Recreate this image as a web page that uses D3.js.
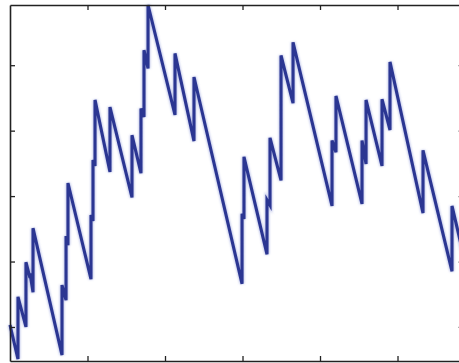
<!DOCTYPE html>
<html>
<head>
<meta charset="utf-8">
<script src="https://cdn.jsdelivr.net/npm/d3@7"></script>
<style>
  html, body { margin: 0; padding: 0; background: #fff; }
  svg { display: block; }
</style>
</head>
<body>
<svg id="chart"></svg>
<script>
// sawtooth series (repeated times are vertical jumps)
let time = [0, 10.3, 10.3, 20.6, 20.6, 25.8, 25.8, 29.7, 29.7,
    67.1, 67.1, 72.3, 72.3, 74.8, 74.8,
    104.5, 104.5, 107.1, 107.1, 109.7, 109.7,
    129.0, 129.0, 157.4, 157.4, 169.0, 169.0, 172.9, 172.9, 178.1, 178.1,
    212.9, 212.9, 237.4, 237.4,
    299.4, 299.4, 301.9, 301.9, 331.6, 331.6, 335.5, 335.5,
    349.7, 349.7, 365.2, 365.2,
    415.5, 415.5, 420.6, 420.6, 454.2, 454.2, 459.4, 459.4,
    480.0, 480.0, 490.3, 490.3, 532.9, 532.9, 570.3, 570.3, 584.5];
let level = [1.03, 0.51, 1.46, 1.00, 1.99, 1.75, 1.82, 1.53, 2.51,
    0.57, 1.64, 1.41, 2.39, 2.25, 3.20,
    1.73, 2.71, 2.62, 3.55, 3.46, 4.47,
    3.37, 4.36, 2.98, 3.93, 3.35, 4.34, 4.21, 5.23, 4.95, 5.92,
    4.24, 5.18, 3.84, 4.82,
    1.66, 2.73, 2.65, 3.60, 2.11, 2.94, 2.86, 3.89,
    3.24, 5.15, 4.42, 5.35,
    2.85, 3.85, 3.67, 4.53, 2.88, 3.85, 3.49, 4.47,
    3.46, 4.48, 4.01, 5.05, 2.74, 3.70, 1.85, 2.85, 2.13];

let xTicks = [100, 200, 300, 400, 500];
let yTicks = [1, 2, 3, 4, 5];

let svg = d3.select("#chart")
    .attr("width", 459)
    .attr("height", 363);

// soft blur, like the scanned original
svg.append("defs").append("filter")
    .attr("id", "soft")
    .append("feGaussianBlur")
    .attr("stdDeviation", 1.2);

let margin = {top: 5, left: 10},
    width = 453,
    height = 356,
    g = svg.append("g").attr("transform", "translate(" + margin.left + "," + margin.top + ")");

let x = d3.scaleLinear()
    .domain([0, 584.5])
    .range([0, width]);

let y = d3.scaleLinear()
    .domain([0.48, 5.92])
    .range([height, 0]);

let data = time.map((t, i) => ({t: t, v: level[i]}));

let line = d3.line()
    .x(d => x(d.t))
    .y(d => y(d.v));

g.append("path")
    .datum(data)
    .attr("fill", "none")
    .attr("stroke", "#8f9ad8")
    .attr("stroke-opacity", 0.6)
    .attr("stroke-width", 4.5)
    .attr("filter", "url(#soft)")
    .attr("d", line);

g.append("path")
    .datum(data)
    .attr("fill", "none")
    .attr("stroke", "#2b3692")
    .attr("stroke-width", 3.1)
    .attr("stroke-linejoin", "miter")
    .attr("d", line);

function box(axis) {
    return axis.tickSize(-5).tickSizeOuter(0).tickFormat("");
}

g.append("g")
    .attr("transform", "translate(0," + height + ")")
    .call(box(d3.axisBottom(x).tickValues(xTicks)));

g.append("g")
    .call(box(d3.axisTop(x).tickValues(xTicks)));

g.append("g")
    .call(box(d3.axisLeft(y).tickValues(yTicks)));

g.append("g")
    .attr("transform", "translate(" + width + ",0)")
    .attr("opacity", 0.35)
    .call(box(d3.axisRight(y).tickValues(yTicks)));

g.selectAll(".domain").attr("stroke", "#222").attr("stroke-width", 1.6);
g.selectAll(".tick line").attr("stroke", "#222").attr("stroke-width", 1.3);
</script>
</body>
</html>
